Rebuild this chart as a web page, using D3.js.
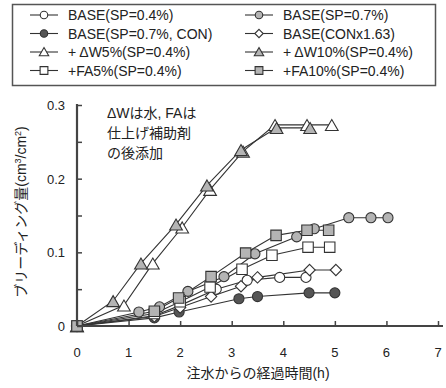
<!DOCTYPE html>
<html>
<head>
<meta charset="utf-8">
<script src="https://cdn.jsdelivr.net/npm/d3@7"></script>
<style>
  body { margin: 0; background: #fff; }
  text { font-family: "Liberation Sans", Arial, "Noto Sans CJK JP", sans-serif; fill: #222; }
</style>
</head>
<body>
<svg id="chart" width="446" height="388"></svg>
<script>
// data: [hours, bleeding cm3/cm2]
var base04   = [[0,0],[1.5,0.014],[2.0,0.028],[2.7,0.05],[3.3,0.062],[3.93,0.066],[4.44,0.066]];
var base07   = [[0,0],[1.2,0.019],[1.6,0.026],[2.15,0.047],[2.85,0.067],[3.45,0.098],[4.26,0.121],[4.6,0.132],[5.27,0.147],[5.7,0.147],[6.03,0.147]];
var base07con = [[0,0],[1.5,0.011],[1.98,0.019],[3.14,0.037],[3.5,0.04],[4.5,0.045],[5.0,0.045]];
var conx163  = [[0,0],[1.5,0.013],[2.0,0.025],[2.6,0.04],[3.18,0.054],[3.5,0.066],[4.51,0.076],[5.02,0.076]];
var dw5      = [[0,0],[0.91,0.028],[1.47,0.085],[2.04,0.134],[2.58,0.185],[3.22,0.237],[3.84,0.273],[4.46,0.273],[4.94,0.273]];
var dw10     = [[0,0],[0.7,0.034],[1.24,0.085],[1.92,0.138],[2.52,0.191],[3.18,0.239],[3.87,0.269],[4.52,0.269]];
var fa5      = [[0,0],[1.5,0.017],[2.0,0.033],[2.58,0.053],[3.2,0.077],[3.78,0.096],[4.48,0.107],[4.9,0.107]];
var fa10     = [[0,0],[1.5,0.02],[1.97,0.038],[2.6,0.067],[3.27,0.099],[3.86,0.123],[4.46,0.130],[4.88,0.130]];

var seriesNames = ["BASE(SP=0.4%)", "BASE(SP=0.7%)", "BASE(SP=0.7%, CON)", "BASE(CONx1.63)",
                   "+ ΔW5%(SP=0.4%)", "+ ΔW10%(SP=0.4%)", "+FA5%(SP=0.4%)", "+FA10%(SP=0.4%)"];
var xTicks = [0,1,2,3,4,5,6,7];
var yTicks = [0,0.1,0.2,0.3];

var svg = d3.select("#chart");
var grayFill = "#b4b4b4";

var series = [
  {name: seriesNames[0], data: base04,    shape: "circle",   fill: "#fff"},
  {name: seriesNames[1], data: base07,    shape: "circle",   fill: grayFill},
  {name: seriesNames[2], data: base07con, shape: "circle",   fill: "#555"},
  {name: seriesNames[3], data: conx163,   shape: "diamond",  fill: "#fff"},
  {name: seriesNames[4], data: dw5,       shape: "triangle", fill: "#fff"},
  {name: seriesNames[5], data: dw10,      shape: "triangle", fill: grayFill},
  {name: seriesNames[6], data: fa5,       shape: "square",   fill: "#fff"},
  {name: seriesNames[7], data: fa10,      shape: "square",   fill: grayFill}
];

var x = d3.scaleLinear().domain([0,7]).range([77, 438]);
var y = d3.scaleLinear().domain([0,0.3]).range([326, 105]);

// square-ish diamond (rotated square)
var diamondSym = {
  draw: function(ctx, size) {
    var r = Math.sqrt(size) / 2 * 1.35;
    ctx.moveTo(0, -r); ctx.lineTo(r, 0); ctx.lineTo(0, r); ctx.lineTo(-r, 0); ctx.closePath();
  }
};

function symbolFor(shape, k) {
  k = k || 1;
  if (shape == "circle") return d3.symbol().type(d3.symbolCircle).size(80 * k);
  if (shape == "diamond") return d3.symbol().type(diamondSym).size(70 * k);
  if (shape == "triangle") return d3.symbol().type(d3.symbolTriangle).size(70 * k);
  return d3.symbol().type(d3.symbolSquare).size(110 * k);
}

// lines
var line = d3.line().x(d => x(d[0])).y(d => y(d[1]));
series.forEach(function(s) {
  svg.append("path")
    .attr("d", line(s.data))
    .attr("fill", "none")
    .attr("stroke", "#333")
    .attr("stroke-width", 1.1);
});

// markers
series.forEach(function(s) {
  svg.append("g").selectAll("path")
    .data(s.data)
    .enter()
    .append("path")
    .attr("d", symbolFor(s.shape)())
    .attr("transform", d => "translate(" + x(d[0]) + "," + (y(d[1]) + (s.shape == "triangle" ? 2 : 0)) + ")")
    .attr("fill", s.fill)
    .attr("stroke", "#333")
    .attr("stroke-width", 1.1);
});

// axes
var xAxis = d3.axisBottom(x).tickValues(xTicks).tickSize(-5).tickFormat("");
var yAxis = d3.axisLeft(y).tickValues(d3.range(0, 0.301, 0.05)).tickSize(-5).tickFormat("");

svg.append("g")
  .attr("transform", "translate(0,326)")
  .call(xAxis)
  .call(g => g.select(".domain").attr("d", "M77,0H443").attr("stroke", "#444").attr("stroke-width", 2.2))
  .call(g => g.selectAll(".tick line").attr("stroke", "#444").attr("stroke-width", 1.5));

svg.append("g")
  .attr("transform", "translate(77,0)")
  .call(yAxis)
  .call(g => g.select(".domain").attr("d", "M0,326V104").attr("stroke", "#444").attr("stroke-width", 2.2))
  .call(g => g.selectAll(".tick line").attr("stroke", "#444").attr("stroke-width", 1.5));

// tick labels
svg.append("g").selectAll("text")
  .data(xTicks)
  .enter()
  .append("text")
  .attr("x", d => x(d))
  .attr("y", 357)
  .attr("text-anchor", "middle")
  .style("font-size", "13px")
  .text(d => d);

svg.append("g").selectAll("text")
  .data(yTicks)
  .enter()
  .append("text")
  .attr("x", 65)
  .attr("y", d => y(d) + 5)
  .attr("text-anchor", "end")
  .style("font-size", "13px")
  .text(d => d == 0 ? "0" : d.toFixed(1));

// axis titles
svg.append("text")
  .attr("x", 258)
  .attr("y", 378)
  .attr("text-anchor", "middle")
  .style("font-size", "14px")
  .text("注水からの経過時間(h)");

var yLabel = svg.append("text")
  .attr("text-anchor", "middle")
  .attr("transform", "translate(26,212)rotate(-90)")
  .style("font-size", "14px");
yLabel.append("tspan").text("ブリーディング量(cm");
yLabel.append("tspan").attr("dy", -5).style("font-size", "9px").text("3");
yLabel.append("tspan").attr("dy", 5).text("/cm");
yLabel.append("tspan").attr("dy", -5).style("font-size", "9px").text("2");
yLabel.append("tspan").attr("dy", 5).text(")");

// note
var note = ["ΔWは水, FAは", "仕上げ補助剤", "の後添加"];
svg.append("g").selectAll("text")
  .data(note)
  .enter()
  .append("text")
  .attr("x", 107)
  .attr("y", (d,i) => 118 + i * 20)
  .style("font-size", "14px")
  .text(d => d);

// legend
svg.append("rect")
  .attr("x", 12.5).attr("y", 4.5)
  .attr("width", 423).attr("height", 81)
  .attr("fill", "none")
  .attr("stroke", "#555")
  .attr("stroke-width", 1.5);

series.forEach(function(s, i) {
  var col = i % 2, row = Math.floor(i / 2);
  var lx = col == 0 ? 30 : 245;
  var ly = 15 + row * 18.5;
  var g = svg.append("g").attr("transform", "translate(" + lx + "," + ly + ")");
  g.append("line")
    .attr("x1", 0).attr("x2", 28)
    .attr("y1", 0).attr("y2", 0)
    .attr("stroke", "#333").attr("stroke-width", 1.1);
  g.append("path")
    .attr("d", symbolFor(s.shape, 0.55)())
    .attr("transform", "translate(14," + (s.shape == "triangle" ? 1 : 0) + ")")
    .attr("fill", s.fill)
    .attr("stroke", "#333")
    .attr("stroke-width", 1.1);
  g.append("text")
    .attr("x", 38)
    .attr("y", 5)
    .style("font-size", "14px")
    .text(s.name);
});
</script>
</body>
</html>
